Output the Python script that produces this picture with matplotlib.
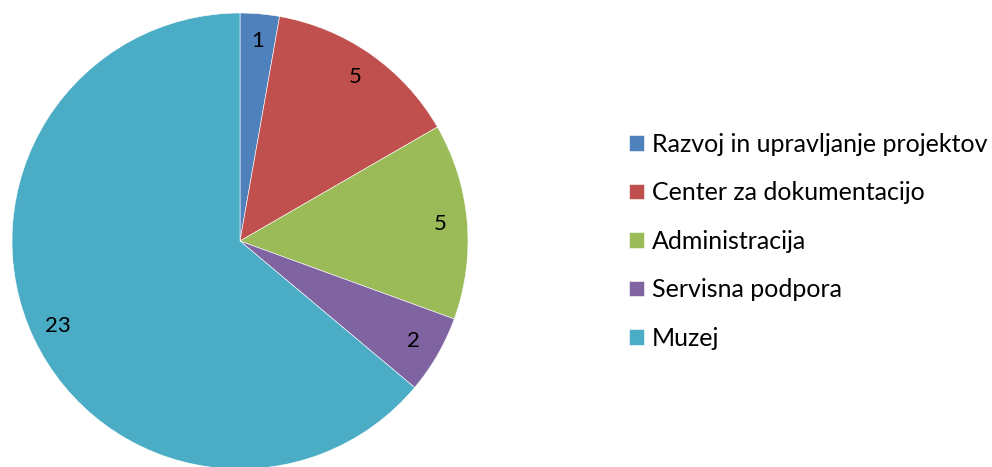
import matplotlib.pyplot as plt

labels = ['Razvoj in upravljanje projektov', 'Center za dokumentacijo',
          'Administracija', 'Servisna podpora', 'Muzej']
values = [1, 5, 5, 2, 23]
colors = ['#4F81BD', '#C0504D', '#9BBB59', '#8064A2', '#4BACC6']

plt.rcParams['font.family'] = ['Lato', 'DejaVu Sans']

fig = plt.figure(figsize=(9.92, 4.67), dpi=100)
ax = fig.add_axes([12 / 992, (226 - 228) / 467, 456 / 992, 456 / 467])

total = sum(values)
wedges, texts, autotexts = ax.pie(
    values, colors=colors, startangle=90, counterclock=False, radius=1,
    autopct=lambda p: '%d' % round(p * total / 100), pctdistance=0.88,
    wedgeprops=dict(edgecolor='white', linewidth=0.4),
    textprops=dict(fontsize=16, color='black'))
ax.set_xlim(-1, 1)
ax.set_ylim(-1, 1)
ax.set_aspect('equal')

fig.legend(wedges, labels, loc='center left', bbox_to_anchor=(629 / 992, 0.483),
           frameon=False, fontsize=18, handlelength=0.58, handleheight=0.58,
           handletextpad=0.32, labelspacing=1.02, borderaxespad=0, borderpad=0)

fig.savefig('out.png', dpi=100)
